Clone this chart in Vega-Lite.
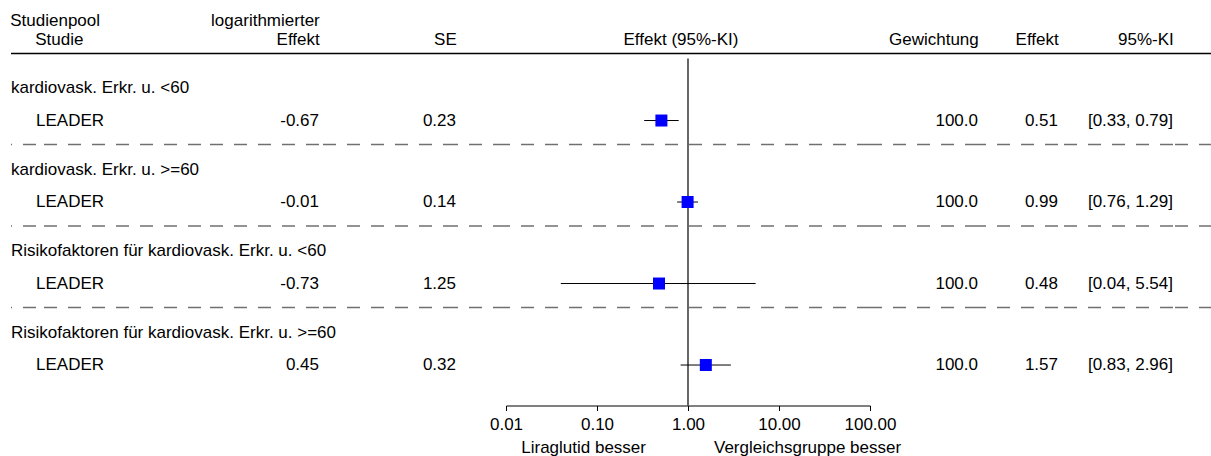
{
  "$schema": "https://vega.github.io/schema/vega-lite/v6.json",
  "padding": {"left": 10, "top": 11.5, "right": 0, "bottom": 0},
  "spacing": 0,
  "bounds": "flush",
  "datasets": {
    "rows": [
      {"group": "kardiovask. Erkr. u. <60", "study": "LEADER", "logEffect": -0.67, "se": 0.23, "weight": 100.0, "effect": 0.51, "lower": 0.33, "upper": 0.79, "ciText": "[0.33, 0.79]"},
      {"group": "kardiovask. Erkr. u. >=60", "study": "LEADER", "logEffect": -0.01, "se": 0.14, "weight": 100.0, "effect": 0.99, "lower": 0.76, "upper": 1.29, "ciText": "[0.76, 1.29]"},
      {"group": "Risikofaktoren für kardiovask. Erkr. u. <60", "study": "LEADER", "logEffect": -0.73, "se": 1.25, "weight": 100.0, "effect": 0.48, "lower": 0.04, "upper": 5.54, "ciText": "[0.04, 5.54]"},
      {"group": "Risikofaktoren für kardiovask. Erkr. u. >=60", "study": "LEADER", "logEffect": 0.45, "se": 0.32, "weight": 100.0, "effect": 1.57, "lower": 0.83, "upper": 2.96, "ciText": "[0.83, 2.96]"}
    ]
  },
  "data": {"name": "rows"},
  "hconcat": [
    {
      "width": 25, "height": 352,
      "title": {"text": ["Studienpool", " "], "anchor": "start"},
      "layer": [
        {"data": {"values": [{}]}, "mark": {"type": "rule", "color": "black", "strokeWidth": 1.5}, "encoding": {"x": {"value": 0}, "x2": {"value": "width"}, "y": {"value": 0}}},
        {"transform": [{"filter": {"not": {"field": "group", "equal": "kardiovask. Erkr. u. <60"}}}], "mark": {"type": "rule", "color": "#707070", "strokeWidth": 1.5, "strokeDash": [13, 11]}, "encoding": {"y": {"field": "group", "type": "nominal", "bandPosition": 0.055, "axis": null, "scale": {"domain": ["kardiovask. Erkr. u. <60", "kardiovask. Erkr. u. >=60", "Risikofaktoren für kardiovask. Erkr. u. <60", "Risikofaktoren für kardiovask. Erkr. u. >=60"], "paddingInner": 0, "paddingOuter": 0.1595, "align": 0.1923, "round": false}}}},
        {"mark": {"type": "text", "align": "left", "baseline": "middle"}, "encoding": {"x": {"value": 0}, "y": {"field": "group", "type": "nominal", "bandPosition": 0.368, "axis": null}, "text": {"field": "group", "type": "nominal"}}}
      ]
    },
    {
      "width": 165, "height": 352,
      "title": {"text": [" ", "Studie"], "anchor": "start"},
      "layer": [
        {"data": {"values": [{}]}, "mark": {"type": "rule", "color": "black", "strokeWidth": 1.5}, "encoding": {"x": {"value": 0}, "x2": {"value": "width"}, "y": {"value": 0}}},
        {"transform": [{"filter": {"not": {"field": "group", "equal": "kardiovask. Erkr. u. <60"}}}], "mark": {"type": "rule", "color": "#707070", "strokeWidth": 1.5, "strokeDash": [13, 11]}, "encoding": {"y": {"field": "group", "type": "nominal", "bandPosition": 0.055, "axis": null, "scale": {"domain": ["kardiovask. Erkr. u. <60", "kardiovask. Erkr. u. >=60", "Risikofaktoren für kardiovask. Erkr. u. <60", "Risikofaktoren für kardiovask. Erkr. u. >=60"], "paddingInner": 0, "paddingOuter": 0.1595, "align": 0.1923, "round": false}}}},
        {"mark": {"type": "text", "align": "left", "baseline": "middle"}, "encoding": {"x": {"value": 0}, "y": {"field": "group", "type": "nominal", "bandPosition": 0.761, "axis": null}, "text": {"field": "study", "type": "nominal"}}}
      ]
    },
    {
      "width": 118, "height": 352,
      "title": {"text": ["logarithmierter", "Effekt"], "anchor": "end"},
      "layer": [
        {"data": {"values": [{}]}, "mark": {"type": "rule", "color": "black", "strokeWidth": 1.5}, "encoding": {"x": {"value": 0}, "x2": {"value": "width"}, "y": {"value": 0}}},
        {"transform": [{"filter": {"not": {"field": "group", "equal": "kardiovask. Erkr. u. <60"}}}], "mark": {"type": "rule", "color": "#707070", "strokeWidth": 1.5, "strokeDash": [13, 11]}, "encoding": {"y": {"field": "group", "type": "nominal", "bandPosition": 0.055, "axis": null, "scale": {"domain": ["kardiovask. Erkr. u. <60", "kardiovask. Erkr. u. >=60", "Risikofaktoren für kardiovask. Erkr. u. <60", "Risikofaktoren für kardiovask. Erkr. u. >=60"], "paddingInner": 0, "paddingOuter": 0.1595, "align": 0.1923, "round": false}}}},
        {"mark": {"type": "text", "align": "right", "baseline": "middle"}, "encoding": {"x": {"value": "width"}, "y": {"field": "group", "type": "nominal", "bandPosition": 0.761, "axis": null}, "text": {"field": "logEffect", "type": "quantitative", "format": ".2f"}}}
      ]
    },
    {
      "width": 137, "height": 352,
      "title": {"text": [" ", "SE"], "anchor": "end"},
      "layer": [
        {"data": {"values": [{}]}, "mark": {"type": "rule", "color": "black", "strokeWidth": 1.5}, "encoding": {"x": {"value": 0}, "x2": {"value": "width"}, "y": {"value": 0}}},
        {"transform": [{"filter": {"not": {"field": "group", "equal": "kardiovask. Erkr. u. <60"}}}], "mark": {"type": "rule", "color": "#707070", "strokeWidth": 1.5, "strokeDash": [13, 11]}, "encoding": {"y": {"field": "group", "type": "nominal", "bandPosition": 0.055, "axis": null, "scale": {"domain": ["kardiovask. Erkr. u. <60", "kardiovask. Erkr. u. >=60", "Risikofaktoren für kardiovask. Erkr. u. <60", "Risikofaktoren für kardiovask. Erkr. u. >=60"], "paddingInner": 0, "paddingOuter": 0.1595, "align": 0.1923, "round": false}}}},
        {"mark": {"type": "text", "align": "right", "baseline": "middle"}, "encoding": {"x": {"value": "width"}, "y": {"field": "group", "type": "nominal", "bandPosition": 0.761, "axis": null}, "text": {"field": "se", "type": "quantitative", "format": ".2f"}}}
      ]
    },
    {
      "width": 50, "height": 352,
      "layer": [
        {"data": {"values": [{}]}, "mark": {"type": "rule", "color": "black", "strokeWidth": 1.5}, "encoding": {"x": {"value": 0}, "x2": {"value": "width"}, "y": {"value": 0}}},
        {"transform": [{"filter": {"not": {"field": "group", "equal": "kardiovask. Erkr. u. <60"}}}], "mark": {"type": "rule", "color": "#707070", "strokeWidth": 1.5, "strokeDash": [13, 11]}, "encoding": {"y": {"field": "group", "type": "nominal", "bandPosition": 0.055, "axis": null, "scale": {"domain": ["kardiovask. Erkr. u. <60", "kardiovask. Erkr. u. >=60", "Risikofaktoren für kardiovask. Erkr. u. <60", "Risikofaktoren für kardiovask. Erkr. u. >=60"], "paddingInner": 0, "paddingOuter": 0.1595, "align": 0.1923, "round": false}}}}
      ]
    },
    {
      "width": 364, "height": 352,
      "title": {"text": [" ", "Effekt (95%-KI)"], "anchor": "middle", "dx": -7},
      "layer": [
        {"data": {"values": [{}]}, "mark": {"type": "rule", "color": "black", "strokeWidth": 1.5}, "encoding": {"x": {"value": 0}, "x2": {"value": "width"}, "y": {"value": 0}}},
        {"transform": [{"filter": {"not": {"field": "group", "equal": "kardiovask. Erkr. u. <60"}}}], "mark": {"type": "rule", "color": "#707070", "strokeWidth": 1.5, "strokeDash": [13, 11]}, "encoding": {"y": {"field": "group", "type": "nominal", "bandPosition": 0.055, "axis": null, "scale": {"domain": ["kardiovask. Erkr. u. <60", "kardiovask. Erkr. u. >=60", "Risikofaktoren für kardiovask. Erkr. u. <60", "Risikofaktoren für kardiovask. Erkr. u. >=60"], "paddingInner": 0, "paddingOuter": 0.1595, "align": 0.1923, "round": false}}}},
        {"mark": {"type": "rule", "color": "black", "strokeWidth": 1}, "encoding": {
          "x": {"field": "lower", "type": "quantitative", "scale": {"type": "log", "domain": [0.01, 100], "nice": false},
                "axis": {"values": [0.01, 0.1, 1, 10, 100], "format": ".2f", "title": null, "grid": false, "tickSize": 5, "labelPadding": 6, "labelFlush": false, "labelOverlap": false, "domainColor": "black", "tickColor": "black", "labelColor": "black", "labelFontSize": 17, "labelFont": "Liberation Sans", "domainWidth": 1, "tickWidth": 1}},
          "x2": {"field": "upper"},
          "y": {"field": "group", "type": "nominal", "bandPosition": 0.761, "axis": null}}},
        {"transform": [{"filter": {"field": "group", "equal": "kardiovask. Erkr. u. <60"}}], "mark": {"type": "rule", "color": "black", "strokeWidth": 1.2}, "encoding": {"x": {"datum": 1, "type": "quantitative"}, "y": {"field": "group", "type": "nominal", "bandPosition": 0, "axis": null}, "y2": {"value": "height"}}},
        {"mark": {"type": "point", "shape": "square", "filled": true, "color": "#0000ff", "size": 144, "opacity": 1}, "encoding": {"x": {"field": "effect", "type": "quantitative"}, "y": {"field": "group", "type": "nominal", "bandPosition": 0.761, "axis": null}}},
        {"data": {"values": [{}]}, "mark": {"type": "text", "align": "right", "baseline": "middle", "dx": -42, "dy": 42.5}, "encoding": {"x": {"datum": 1, "type": "quantitative"}, "y": {"value": "height"}, "text": {"value": "Liraglutid besser"}}},
        {"data": {"values": [{}]}, "mark": {"type": "text", "align": "left", "baseline": "middle", "dx": 26, "dy": 42.5}, "encoding": {"x": {"datum": 1, "type": "quantitative"}, "y": {"value": "height"}, "text": {"value": "Vergleichsgruppe besser"}}}
      ]
    },
    {
      "width": 108, "height": 352,
      "title": {"text": [" ", "Gewichtung"], "anchor": "end"},
      "layer": [
        {"data": {"values": [{}]}, "mark": {"type": "rule", "color": "black", "strokeWidth": 1.5}, "encoding": {"x": {"value": 0}, "x2": {"value": "width"}, "y": {"value": 0}}},
        {"transform": [{"filter": {"not": {"field": "group", "equal": "kardiovask. Erkr. u. <60"}}}], "mark": {"type": "rule", "color": "#707070", "strokeWidth": 1.5, "strokeDash": [13, 11]}, "encoding": {"y": {"field": "group", "type": "nominal", "bandPosition": 0.055, "axis": null, "scale": {"domain": ["kardiovask. Erkr. u. <60", "kardiovask. Erkr. u. >=60", "Risikofaktoren für kardiovask. Erkr. u. <60", "Risikofaktoren für kardiovask. Erkr. u. >=60"], "paddingInner": 0, "paddingOuter": 0.1595, "align": 0.1923, "round": false}}}},
        {"mark": {"type": "text", "align": "right", "baseline": "middle"}, "encoding": {"x": {"value": "width"}, "y": {"field": "group", "type": "nominal", "bandPosition": 0.761, "axis": null}, "text": {"field": "weight", "type": "quantitative", "format": ".1f"}}}
      ]
    },
    {
      "width": 80, "height": 352,
      "title": {"text": [" ", "Effekt"], "anchor": "end"},
      "layer": [
        {"data": {"values": [{}]}, "mark": {"type": "rule", "color": "black", "strokeWidth": 1.5}, "encoding": {"x": {"value": 0}, "x2": {"value": "width"}, "y": {"value": 0}}},
        {"transform": [{"filter": {"not": {"field": "group", "equal": "kardiovask. Erkr. u. <60"}}}], "mark": {"type": "rule", "color": "#707070", "strokeWidth": 1.5, "strokeDash": [13, 11]}, "encoding": {"y": {"field": "group", "type": "nominal", "bandPosition": 0.055, "axis": null, "scale": {"domain": ["kardiovask. Erkr. u. <60", "kardiovask. Erkr. u. >=60", "Risikofaktoren für kardiovask. Erkr. u. <60", "Risikofaktoren für kardiovask. Erkr. u. >=60"], "paddingInner": 0, "paddingOuter": 0.1595, "align": 0.1923, "round": false}}}},
        {"mark": {"type": "text", "align": "right", "baseline": "middle"}, "encoding": {"x": {"value": "width"}, "y": {"field": "group", "type": "nominal", "bandPosition": 0.761, "axis": null}, "text": {"field": "effect", "type": "quantitative", "format": ".2f"}}}
      ]
    },
    {
      "width": 115, "height": 352,
      "title": {"text": [" ", "95%-KI"], "anchor": "end"},
      "layer": [
        {"data": {"values": [{}]}, "mark": {"type": "rule", "color": "black", "strokeWidth": 1.5}, "encoding": {"x": {"value": 0}, "x2": {"value": "width"}, "y": {"value": 0}}},
        {"transform": [{"filter": {"not": {"field": "group", "equal": "kardiovask. Erkr. u. <60"}}}], "mark": {"type": "rule", "color": "#707070", "strokeWidth": 1.5, "strokeDash": [13, 11]}, "encoding": {"y": {"field": "group", "type": "nominal", "bandPosition": 0.055, "axis": null, "scale": {"domain": ["kardiovask. Erkr. u. <60", "kardiovask. Erkr. u. >=60", "Risikofaktoren für kardiovask. Erkr. u. <60", "Risikofaktoren für kardiovask. Erkr. u. >=60"], "paddingInner": 0, "paddingOuter": 0.1595, "align": 0.1923, "round": false}}}},
        {"mark": {"type": "text", "align": "right", "baseline": "middle"}, "encoding": {"x": {"value": "width"}, "y": {"field": "group", "type": "nominal", "bandPosition": 0.761, "axis": null}, "text": {"field": "ciText", "type": "nominal"}}}
      ]
    },
    {
      "width": 39, "height": 352,
      "layer": [
        {"data": {"values": [{}]}, "mark": {"type": "rule", "color": "black", "strokeWidth": 1.5}, "encoding": {"x": {"value": 0}, "x2": {"value": "width"}, "y": {"value": 0}}},
        {"transform": [{"filter": {"not": {"field": "group", "equal": "kardiovask. Erkr. u. <60"}}}], "mark": {"type": "rule", "color": "#707070", "strokeWidth": 1.5, "strokeDash": [13, 11]}, "encoding": {"y": {"field": "group", "type": "nominal", "bandPosition": 0.055, "axis": null, "scale": {"domain": ["kardiovask. Erkr. u. <60", "kardiovask. Erkr. u. >=60", "Risikofaktoren für kardiovask. Erkr. u. <60", "Risikofaktoren für kardiovask. Erkr. u. >=60"], "paddingInner": 0, "paddingOuter": 0.1595, "align": 0.1923, "round": false}}}}
      ]
    }
  ],
  "config": {
    "font": "Liberation Sans",
    "locale": {"number": {"decimal": ".", "thousands": ",", "grouping": [3], "currency": ["", ""], "minus": "-"}},
    "view": {"stroke": null},
    "text": {"font": "Liberation Sans", "fontSize": 17, "color": "black"},
    "title": {"font": "Liberation Sans", "fontSize": 17, "fontWeight": "normal", "color": "black", "lineHeight": 19, "offset": 4}
  }
}
